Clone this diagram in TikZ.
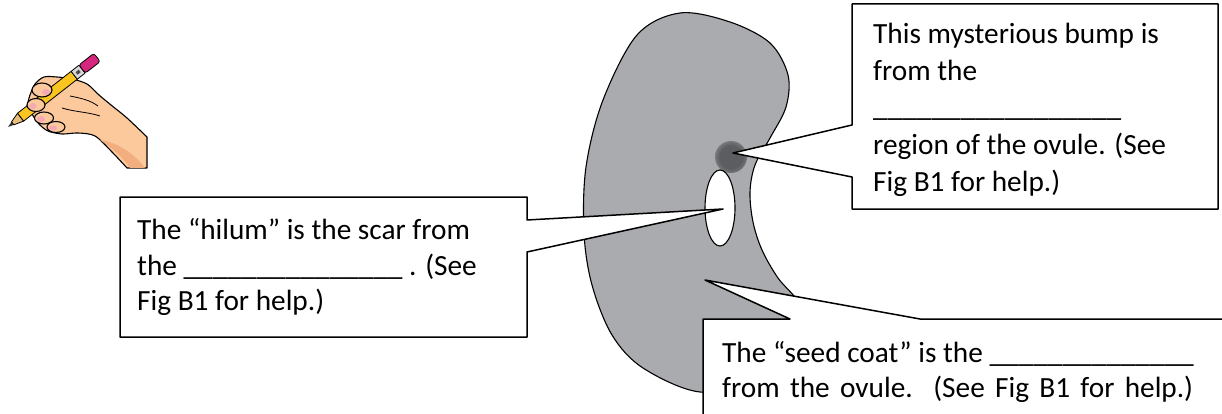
\documentclass[tikz,border=0pt]{standalone}
\usepackage{fontspec}
\setmainfont{Carlito}
\begin{document}
\begin{tikzpicture}[x=1pt,y=-1pt,line join=round]
  \definecolor{seedgray}{HTML}{AAABAE}
  \definecolor{bumpdark}{HTML}{5C5D60}
  \definecolor{skin}{HTML}{FCC99C}
  \definecolor{skindark}{HTML}{F2AE7E}
  \definecolor{nailpink}{HTML}{F4A9B4}
  \definecolor{pencilyellow}{HTML}{F9C51E}
  \definecolor{woodtan}{HTML}{E9BE7C}
  \definecolor{eraserpink}{HTML}{D4267E}
  \pgfdeclareradialshading{bumpshade}{\pgfpoint{0bp}{0bp}}{color(0bp)=(bumpdark); color(18bp)=(bumpdark); color(38bp)=(seedgray); color(50bp)=(seedgray)}
  \tikzset{
    callout/.style={draw=black,fill=white,line width=1.5pt},
    txt/.style={anchor=base west,inner sep=0pt,font=\fontsize{29.3}{35}\selectfont},
    outline/.style={draw=black,line width=1.1pt},
  }
  \useasboundingbox (0,0) rectangle (1222,414);
  \clip (0,0) rectangle (1222,414);

  % ---- hand holding a pencil ----
  \draw[outline,fill=skin]
    plot[smooth,tension=0.5] coordinates {(30,95) (35,84) (44,77) (57,77) (72,79) (87,84) (99,95) (111,105) (127,118) (147,137)}
    -- (147,168) -- (127,168)
    -- plot[smooth,tension=0.5] coordinates {(127,168) (112,152) (95,136) (78,133) (62,134) (48,131) (39,124) (32,114) (28,104) (30,95)}
    -- cycle;
  \draw[line width=0.8pt] (62,108) .. controls (75,112) and (88,112) .. (100,116);
  \draw[line width=0.8pt] (70,96) .. controls (80,98) and (90,100) .. (98,106);
  \fill[skindark] (100,140) .. controls (115,150) and (125,160) .. (130,168) -- (145,168) .. controls (135,155) and (120,143) .. (100,140);
  \begin{scope}[shift={(8,127)},rotate=38]
    \fill[black!80] (0,0) -- (6,1.9) -- (6,-1.9) -- cycle;
    \draw[line width=0.8pt,fill=woodtan] (6,1.9) -- (16,5) -- (16,-5) -- (6,-1.9) -- cycle;
    \draw[line width=0.8pt,fill=pencilyellow] (16,-5) rectangle (84,5);
    \draw[line width=0.8pt,fill=black!15] (84,-5) rectangle (94,5);
    \fill[black!70] (87,-1.6) rectangle (91,1.6);
    \draw[line width=0.8pt,fill=eraserpink,rounded corners=2.5pt] (94,-5.2) rectangle (113,5.2);
  \end{scope}
  % fingers curled over the pencil
  \draw[outline,fill=skin] (42,90) ellipse [x radius=10pt,y radius=7pt];
  \draw[outline,fill=skin] (36,105) ellipse [x radius=9pt,y radius=6.5pt];
  \draw[outline,fill=skin] (44,118) ellipse [x radius=9.5pt,y radius=6pt];
  \draw[outline,fill=skin] (56,127) ellipse [x radius=9pt,y radius=5.5pt];
  \fill[nailpink] (46,92) ellipse [x radius=4pt,y radius=3pt];
  \fill[nailpink] (33,106) ellipse [x radius=3.5pt,y radius=3pt];
  \fill[nailpink] (41,119) ellipse [x radius=4pt,y radius=3pt];
  \fill[nailpink] (53,128) ellipse [x radius=4pt,y radius=2.5pt];

  % ---- the seed ----
  \draw[fill=seedgray,line width=1.1pt]
    plot[smooth cycle,tension=0.55] coordinates {(680,13) (730,22) (770,43) (788,75) (786,107) (770,138) (755,165) (750,192) (753,222) (762,250) (778,278) (800,305) (805,340) (760,380) (700,392) (643,368) (612,335) (592,285) (584,233) (586,167) (603,100) (637,35)};
  \shade[shading=bumpshade] (731,157) circle (16pt);
  \draw[fill=white,line width=1.1pt] (720,208) ellipse [x radius=15pt,y radius=38pt];

  \coordinate (bumptip) at (733,153);
  \coordinate (hilumtip) at (723,209);
  \coordinate (coattip) at (705,280);

  % ---- callout boxes ----
  \draw[callout] (852,4) -- (1218,4) -- (1218,209) -- (852,209) -- (852,177) -- (bumptip) -- (852,125) -- cycle;
  \draw[callout] (120,197) -- (527,197) -- (527,220) -- (hilumtip) -- (527,252) -- (527,337) -- (120,337) -- cycle;
  \draw[callout] (703,319) -- (790,319) -- (coattip) -- (920,319) -- (1230,319) -- (1230,425) -- (703,425) -- cycle;

  % ---- callout texts ----
  \node[txt] (bump1) at (873,44) {This mysterious bump is};
  \node[txt] (bump2) at (873,81) {from the};
  \node[txt] (bump3) at (873,117) {\_\_\_\_\_\_\_\_\_\_\_\_\_\_\_\_\_};
  \node[txt] (bump4) at (873,155) {region of the ovule. (See};
  \node[txt] (bump5) at (873,191) {Fig B1 for help.)};

  \node[txt] (hil1) at (137,239) {The “hilum” is the scar from};
  \node[txt] (hil2) at (137,275) {the \_\_\_\_\_\_\_\_\_\_\_\_\_\_\_ . (See};
  \node[txt] (hil3) at (137,310) {Fig B1 for help.)};

  \node[txt] (coat1) at (722,362) {The “seed coat” is the \_\_\_\_\_\_\_\_\_\_\_\_\_\_};
  \node[txt] (coat2) at (722,397) {\makebox[471pt][s]{from the ovule.\ \ (See Fig B1 for help.)}};
\end{tikzpicture}
\end{document}
